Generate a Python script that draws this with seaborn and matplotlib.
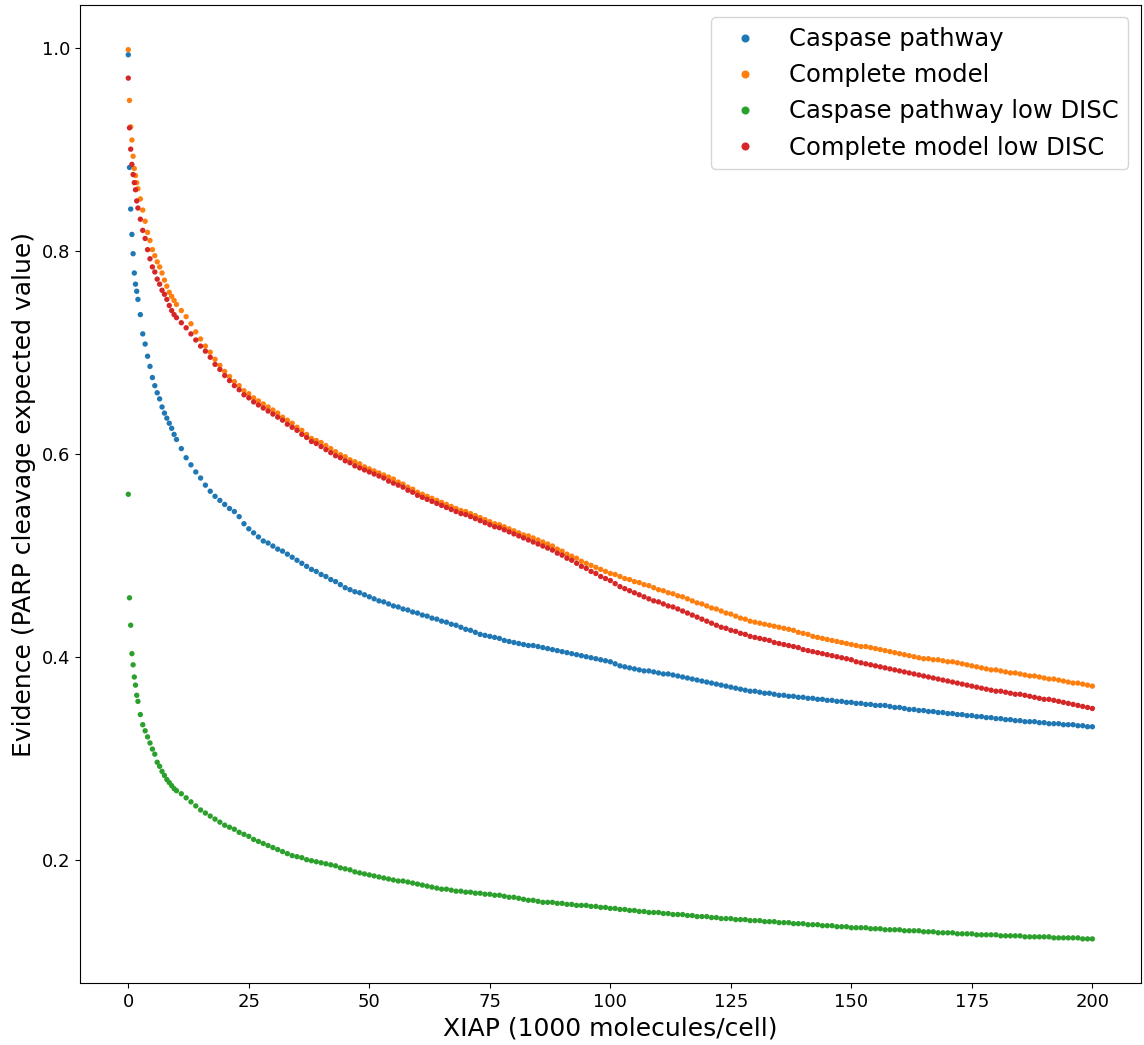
import pandas as pd
import matplotlib
matplotlib.use("Agg")
import matplotlib.pyplot as plt
import seaborn as sns

# XIAP levels (1000 molecules/cell)
xiap_early = [0, 0.25, 0.5, 0.75, 1.0, 1.25, 1.5, 1.75, 2.0, 2.5, 3.0, 3.5, 4.0, 4.5,
              5.0, 5.5, 6.0, 6.5, 7.0, 7.5, 8.0, 8.5, 9.0, 9.5, 10]
xiap = xiap_early + list(range(11, 201))

caspase = [
    0.993, 0.882, 0.841, 0.816, 0.797, 0.778, 0.767, 0.760, 0.752, 0.737, 0.718, 0.708, 0.696,
    0.686, 0.675, 0.667, 0.660, 0.654, 0.646, 0.640, 0.635, 0.630, 0.625, 0.619, 0.614,
    0.605, 0.596, 0.589, 0.582, 0.576, 0.569, 0.563, 0.558, 0.554, 0.550,
    0.546, 0.543, 0.538, 0.531, 0.526, 0.522, 0.518, 0.514, 0.512, 0.509,
    0.506, 0.504, 0.501, 0.498, 0.495, 0.492, 0.489, 0.486, 0.484, 0.481,
    0.479, 0.476, 0.474, 0.471, 0.468, 0.466, 0.464, 0.463, 0.461, 0.459,
    0.457, 0.455, 0.454, 0.452, 0.450, 0.449, 0.447, 0.446, 0.444, 0.443,
    0.441, 0.440, 0.438, 0.437, 0.435, 0.434, 0.432, 0.431, 0.429, 0.427,
    0.426, 0.424, 0.422, 0.421, 0.420, 0.419, 0.418, 0.416, 0.415, 0.414,
    0.413, 0.412, 0.411, 0.411, 0.410, 0.409, 0.408, 0.407, 0.406, 0.405,
    0.404, 0.403, 0.402, 0.401, 0.400, 0.399, 0.398, 0.397, 0.396, 0.395,
    0.393, 0.391, 0.390, 0.389, 0.388, 0.387, 0.386, 0.386, 0.385, 0.384,
    0.383, 0.383, 0.382, 0.381, 0.380, 0.379, 0.378, 0.377, 0.376, 0.375,
    0.374, 0.373, 0.372, 0.371, 0.370, 0.369, 0.368, 0.367, 0.366, 0.366,
    0.365, 0.364, 0.364, 0.363, 0.362, 0.362, 0.361, 0.361, 0.360, 0.360,
    0.359, 0.359, 0.358, 0.358, 0.357, 0.357, 0.356, 0.356, 0.355, 0.355,
    0.354, 0.354, 0.353, 0.353, 0.352, 0.352, 0.352, 0.351, 0.350, 0.350,
    0.349, 0.348, 0.348, 0.347, 0.347, 0.346, 0.346, 0.345, 0.345, 0.344,
    0.344, 0.343, 0.343, 0.342, 0.342, 0.341, 0.341, 0.340, 0.340, 0.339,
    0.339, 0.338, 0.338, 0.337, 0.337, 0.336, 0.336, 0.336, 0.335, 0.335,
    0.334, 0.334, 0.334, 0.333, 0.333, 0.333, 0.332, 0.332, 0.331, 0.331,
]

complete = [
    0.998, 0.948, 0.922, 0.909, 0.893, 0.881, 0.874, 0.867, 0.861, 0.851, 0.840, 0.829, 0.818,
    0.810, 0.801, 0.795, 0.789, 0.784, 0.778, 0.771, 0.765, 0.759, 0.755, 0.751, 0.747,
    0.741, 0.735, 0.728, 0.720, 0.713, 0.706, 0.700, 0.693, 0.687, 0.681,
    0.676, 0.671, 0.667, 0.662, 0.659, 0.655, 0.652, 0.649, 0.646, 0.643,
    0.640, 0.636, 0.633, 0.630, 0.626, 0.623, 0.619, 0.615, 0.613, 0.611,
    0.608, 0.605, 0.602, 0.599, 0.597, 0.594, 0.592, 0.590, 0.587, 0.585,
    0.583, 0.581, 0.579, 0.577, 0.575, 0.572, 0.570, 0.567, 0.565, 0.562,
    0.560, 0.558, 0.556, 0.554, 0.552, 0.550, 0.548, 0.546, 0.544, 0.543,
    0.541, 0.539, 0.537, 0.535, 0.533, 0.531, 0.530, 0.528, 0.526, 0.524,
    0.522, 0.520, 0.519, 0.517, 0.515, 0.513, 0.511, 0.509, 0.506, 0.504,
    0.501, 0.499, 0.497, 0.494, 0.492, 0.490, 0.488, 0.486, 0.484, 0.482,
    0.481, 0.479, 0.477, 0.476, 0.474, 0.473, 0.471, 0.470, 0.468, 0.466,
    0.465, 0.463, 0.462, 0.460, 0.459, 0.457, 0.455, 0.453, 0.452, 0.450,
    0.448, 0.447, 0.445, 0.443, 0.442, 0.440, 0.438, 0.437, 0.435, 0.434,
    0.433, 0.432, 0.431, 0.430, 0.429, 0.428, 0.427, 0.426, 0.424, 0.423,
    0.422, 0.420, 0.419, 0.418, 0.417, 0.416, 0.415, 0.414, 0.413, 0.412,
    0.411, 0.410, 0.410, 0.409, 0.408, 0.407, 0.406, 0.405, 0.404, 0.403,
    0.402, 0.401, 0.400, 0.399, 0.398, 0.398, 0.397, 0.397, 0.396, 0.395,
    0.395, 0.394, 0.393, 0.392, 0.391, 0.390, 0.389, 0.388, 0.387, 0.387,
    0.386, 0.385, 0.384, 0.384, 0.383, 0.382, 0.381, 0.381, 0.380, 0.379,
    0.378, 0.378, 0.377, 0.376, 0.375, 0.374, 0.374, 0.373, 0.372, 0.371,
]

caspase_low = [
    0.560, 0.458, 0.431, 0.403, 0.392, 0.380, 0.372, 0.362, 0.356, 0.343, 0.333, 0.327, 0.321,
    0.315, 0.309, 0.304, 0.296, 0.292, 0.287, 0.283, 0.279, 0.276, 0.273, 0.270, 0.268,
    0.265, 0.261, 0.257, 0.253, 0.249, 0.246, 0.243, 0.240, 0.237, 0.234,
    0.232, 0.230, 0.227, 0.225, 0.223, 0.220, 0.218, 0.216, 0.214, 0.212,
    0.210, 0.208, 0.206, 0.204, 0.203, 0.202, 0.200, 0.199, 0.198, 0.197,
    0.196, 0.195, 0.194, 0.192, 0.191, 0.190, 0.188, 0.187, 0.186, 0.185,
    0.184, 0.183, 0.182, 0.181, 0.180, 0.179, 0.179, 0.178, 0.177, 0.176,
    0.175, 0.174, 0.173, 0.172, 0.171, 0.171, 0.170, 0.169, 0.169, 0.168,
    0.168, 0.167, 0.167, 0.166, 0.166, 0.165, 0.165, 0.164, 0.163, 0.163,
    0.162, 0.161, 0.160, 0.160, 0.159, 0.158, 0.158, 0.158, 0.157, 0.157,
    0.156, 0.156, 0.155, 0.155, 0.155, 0.154, 0.154, 0.153, 0.153, 0.152,
    0.152, 0.151, 0.151, 0.150, 0.150, 0.149, 0.149, 0.148, 0.148, 0.148,
    0.147, 0.147, 0.146, 0.146, 0.146, 0.145, 0.145, 0.144, 0.144, 0.144,
    0.143, 0.143, 0.142, 0.142, 0.142, 0.141, 0.141, 0.141, 0.140, 0.140,
    0.140, 0.139, 0.139, 0.139, 0.138, 0.138, 0.138, 0.137, 0.137, 0.137,
    0.136, 0.136, 0.136, 0.135, 0.135, 0.135, 0.134, 0.134, 0.134, 0.133,
    0.133, 0.133, 0.133, 0.132, 0.132, 0.132, 0.131, 0.131, 0.131, 0.131,
    0.130, 0.130, 0.130, 0.130, 0.129, 0.129, 0.129, 0.128, 0.128, 0.128,
    0.128, 0.127, 0.127, 0.127, 0.127, 0.126, 0.126, 0.126, 0.126, 0.126,
    0.125, 0.125, 0.125, 0.125, 0.125, 0.124, 0.124, 0.124, 0.124, 0.124,
    0.124, 0.123, 0.123, 0.123, 0.123, 0.123, 0.123, 0.122, 0.122, 0.122,
]

complete_low = [
    0.970, 0.921, 0.900, 0.885, 0.875, 0.867, 0.860, 0.849, 0.842, 0.831, 0.820, 0.812, 0.801,
    0.792, 0.784, 0.779, 0.772, 0.767, 0.761, 0.757, 0.752, 0.746, 0.741, 0.737, 0.734,
    0.729, 0.724, 0.718, 0.712, 0.706, 0.701, 0.695, 0.688, 0.683, 0.677,
    0.672, 0.667, 0.663, 0.658, 0.655, 0.651, 0.648, 0.645, 0.642, 0.639,
    0.636, 0.633, 0.629, 0.626, 0.623, 0.619, 0.616, 0.612, 0.610, 0.607,
    0.604, 0.601, 0.598, 0.596, 0.593, 0.591, 0.588, 0.586, 0.584, 0.582,
    0.580, 0.578, 0.576, 0.573, 0.571, 0.569, 0.567, 0.564, 0.562, 0.559,
    0.557, 0.555, 0.553, 0.551, 0.549, 0.547, 0.545, 0.543, 0.541, 0.540,
    0.538, 0.536, 0.534, 0.532, 0.530, 0.528, 0.527, 0.525, 0.523, 0.521,
    0.519, 0.517, 0.515, 0.513, 0.511, 0.509, 0.507, 0.505, 0.502, 0.500,
    0.497, 0.495, 0.492, 0.489, 0.487, 0.484, 0.482, 0.479, 0.477, 0.475,
    0.472, 0.469, 0.467, 0.465, 0.463, 0.461, 0.459, 0.457, 0.455, 0.454,
    0.452, 0.450, 0.449, 0.447, 0.445, 0.443, 0.441, 0.439, 0.437, 0.435,
    0.433, 0.431, 0.429, 0.428, 0.426, 0.425, 0.423, 0.422, 0.420, 0.419,
    0.418, 0.417, 0.416, 0.414, 0.413, 0.412, 0.411, 0.410, 0.409, 0.407,
    0.406, 0.405, 0.404, 0.403, 0.402, 0.401, 0.400, 0.399, 0.398, 0.397,
    0.395, 0.394, 0.393, 0.392, 0.391, 0.390, 0.389, 0.388, 0.387, 0.386,
    0.385, 0.384, 0.383, 0.382, 0.381, 0.380, 0.379, 0.378, 0.377, 0.376,
    0.375, 0.374, 0.373, 0.372, 0.371, 0.370, 0.369, 0.368, 0.367, 0.366,
    0.366, 0.365, 0.364, 0.363, 0.363, 0.362, 0.361, 0.360, 0.359, 0.358,
    0.358, 0.357, 0.356, 0.355, 0.354, 0.353, 0.352, 0.351, 0.350, 0.349,
]

labels = ["Caspase pathway", "Complete model", "Caspase pathway low DISC", "Complete model low DISC"]
series = [caspase, complete, caspase_low, complete_low]

# long format table for seaborn
df = pd.concat(
    [pd.DataFrame({"xiap": xiap, "evidence": vals, "model": name}) for name, vals in zip(labels, series)],
    ignore_index=True,
)

fig, ax = plt.subplots(figsize=(11.44, 10.45), dpi=100)
fig.subplots_adjust(left=0.070, right=0.997, top=0.995, bottom=0.059)

sns.scatterplot(data=df, x="xiap", y="evidence", hue="model", hue_order=labels,
                palette="tab10", s=15, linewidth=0, ax=ax)

handles, _ = ax.get_legend_handles_labels()
ax.legend(handles, labels, loc="upper right", fontsize=17.5, markerscale=1.5)

ax.set_xlabel("XIAP (1000 molecules/cell)", fontsize=18)
ax.set_ylabel("Evidence (PARP cleavage expected value)", fontsize=18)
ax.tick_params(labelsize=13)

plt.savefig("out.png", dpi=100)
